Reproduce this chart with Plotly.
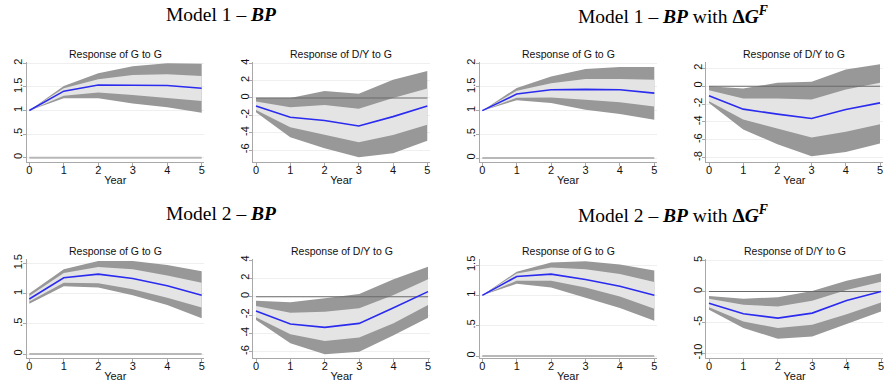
import plotly.graph_objects as go

W, H = 888, 387

years = [0, 1, 2, 3, 4, 5]
year_labels = ["0", "1", "2", "3", "4", "5"]

# ---- Panel data ----
# Model 1 - BP : Response of G to G
m1_g_irf = [1.0, 1.41, 1.54, 1.54, 1.53, 1.47]
m1_g_in_hi = [1.0, 1.47, 1.66, 1.75, 1.77, 1.73]
m1_g_in_lo = [1.0, 1.31, 1.38, 1.33, 1.27, 1.20]
m1_g_out_hi = [1.0, 1.52, 1.79, 1.94, 2.0, 1.99]
m1_g_out_lo = [1.0, 1.26, 1.26, 1.15, 1.07, 0.95]

# Model 1 - BP : Response of D/Y to G
m1_d_irf = [-0.92, -2.23, -2.6, -3.23, -2.15, -0.92]
m1_d_in_hi = [-0.42, -1.08, -0.8, -1.23, 0.0, 1.08]
m1_d_in_lo = [-1.38, -3.38, -4.27, -5.1, -4.27, -3.08]
m1_d_out_hi = [0.0, 0.0, 0.8, 0.5, 2.1, 3.1]
m1_d_out_lo = [-1.65, -4.54, -5.8, -6.85, -6.38, -4.92]

# Model 1 - BP with dG^F : Response of G to G
m1f_g_irf = [1.0, 1.35, 1.44, 1.45, 1.44, 1.37]
m1f_g_in_hi = [1.0, 1.42, 1.58, 1.67, 1.67, 1.65]
m1f_g_in_lo = [1.0, 1.27, 1.28, 1.23, 1.18, 1.09]
m1f_g_out_hi = [1.0, 1.48, 1.72, 1.88, 1.92, 1.92]
m1f_g_out_lo = [1.0, 1.22, 1.16, 1.02, 0.93, 0.81]

# Model 1 - BP with dG^F : Response of D/Y to G
m1f_d_irf = [-1.08, -2.57, -3.13, -3.62, -2.61, -1.87]
m1f_d_in_hi = [-0.45, -1.38, -1.38, -1.49, -0.37, 0.37]
m1f_d_in_lo = [-1.68, -3.73, -4.74, -5.75, -5.11, -4.25]
m1f_d_out_hi = [0.0, -0.26, 0.37, 0.49, 1.87, 2.46]
m1f_d_out_lo = [-1.87, -4.85, -6.49, -7.84, -7.35, -6.42]

# Model 2 - BP : Response of G to G
m2_g_irf = [0.91, 1.26, 1.32, 1.25, 1.13, 0.97]
m2_g_in_hi = [0.96, 1.34, 1.44, 1.40, 1.30, 1.18]
m2_g_in_lo = [0.87, 1.18, 1.17, 1.07, 0.93, 0.77]
m2_g_out_hi = [1.0, 1.40, 1.54, 1.54, 1.47, 1.37]
m2_g_out_lo = [0.83, 1.12, 1.10, 0.97, 0.81, 0.59]

# Model 2 - BP : Response of D/Y to G
m2_d_irf = [-1.56, -2.98, -3.35, -2.91, -1.2, 0.55]
m2_d_in_hi = [-1.02, -1.75, -1.64, -1.27, 0.18, 1.89]
m2_d_in_lo = [-2.25, -4.11, -4.84, -4.44, -2.9, -0.9]
m2_d_out_hi = [-0.44, -0.62, -0.18, 0.29, 1.89, 3.27]
m2_d_out_lo = [-2.55, -5.09, -6.29, -6.0, -4.2, -2.29]

# Model 2 - BP with dG^F : Response of G to G
m2f_g_irf = [1.0, 1.31, 1.35, 1.26, 1.15, 1.0]
m2f_g_in_hi = [1.0, 1.36, 1.46, 1.43, 1.35, 1.22]
m2f_g_in_lo = [1.0, 1.24, 1.24, 1.13, 0.98, 0.78]
m2f_g_out_hi = [1.0, 1.39, 1.54, 1.56, 1.51, 1.41]
m2f_g_out_lo = [1.0, 1.19, 1.13, 0.96, 0.79, 0.58]

# Model 2 - BP with dG^F : Response of D/Y to G
m2f_d_irf = [-1.88, -3.6, -4.3, -3.49, -1.45, 0.0]
m2f_d_in_hi = [-1.18, -2.15, -2.42, -1.5, 0.27, 1.6]
m2f_d_in_lo = [-2.53, -4.84, -5.91, -5.38, -3.66, -1.77]
m2f_d_out_hi = [-0.7, -1.18, -0.91, 0.1, 1.77, 2.96]
m2f_d_out_lo = [-2.96, -5.91, -7.63, -7.26, -5.22, -3.23]

g_ticks_2 = [0, 0.5, 1, 1.5, 2]
g_ticks_15 = [0, 0.5, 1, 1.5]
g_tick_text_2 = ["0", ".5", "1", "1.5", "2"]
g_tick_text_15 = ["0", ".5", "1", "1.5"]
d_ticks_a = [-6, -4, -2, 0, 2, 4]
d_ticks_b = [-8, -6, -4, -2, 0, 2]
d_ticks_c = [-10, -5, 0, 5]

title_g = "Response of G to G"
title_d = "Response of D/Y to G"
headers = [
    "Model 1 – <b><i>BP</i></b>",
    "Model 1 – <b><i>BP</i></b> with <b>Δ<i>G</i><sup><i>F</i></sup></b>",
    "Model 2 – <b><i>BP</i></b>",
    "Model 2 – <b><i>BP</i></b> with <b>Δ<i>G</i><sup><i>F</i></sup></b>",
]

# ---- layout geometry (pixels) ----
TOP_ROW = (61.7, 161.7)
BOT_ROW = (259.3, 357.5)

panels = [
    dict(d=(m1_g_irf, m1_g_in_hi, m1_g_in_lo, m1_g_out_hi, m1_g_out_lo), kind="g",
         ticks=g_ticks_2, text=g_tick_text_2, title=title_g, row=TOP_ROW,
         LR=(26.5, 204), xp=(29.3, 201.7), yp=((2, 63.3), (0, 157.7))),
    dict(d=(m1_d_irf, m1_d_in_hi, m1_d_in_lo, m1_d_out_hi, m1_d_out_lo), kind="d",
         ticks=d_ticks_a, text=[str(t) for t in d_ticks_a], title=title_d, row=TOP_ROW,
         LR=(253.3, 429.5), xp=(256.0, 427.3), yp=((4, 63.3), (-6, 150.0))),
    dict(d=(m1f_g_irf, m1f_g_in_hi, m1f_g_in_lo, m1f_g_out_hi, m1f_g_out_lo), kind="g",
         ticks=g_ticks_2, text=g_tick_text_2, title=title_g, row=TOP_ROW,
         LR=(479.5, 656.5), xp=(482.3, 654.3), yp=((2, 63.3), (0, 158.0))),
    dict(d=(m1f_d_irf, m1f_d_in_hi, m1f_d_in_lo, m1f_d_out_hi, m1f_d_out_lo), kind="d",
         ticks=d_ticks_b, text=[str(t) for t in d_ticks_b], title=title_d, row=TOP_ROW,
         LR=(706.3, 882.5), xp=(709.0, 880.0), yp=((2, 68.3), (-8, 157.7))),
    dict(d=(m2_g_irf, m2_g_in_hi, m2_g_in_lo, m2_g_out_hi, m2_g_out_lo), kind="g",
         ticks=g_ticks_15, text=g_tick_text_15, title=title_g, row=BOT_ROW,
         LR=(26.5, 204), xp=(29.3, 201.7), yp=((1.5, 263.3), (0, 354.0))),
    dict(d=(m2_d_irf, m2_d_in_hi, m2_d_in_lo, m2_d_out_hi, m2_d_out_lo), kind="d",
         ticks=d_ticks_a, text=[str(t) for t in d_ticks_a], title=title_d, row=BOT_ROW,
         LR=(253.3, 430), xp=(256.0, 428.0), yp=((4, 260.0), (-6, 351.7))),
    dict(d=(m2f_g_irf, m2f_g_in_hi, m2f_g_in_lo, m2f_g_out_hi, m2f_g_out_lo), kind="g",
         ticks=g_ticks_15, text=g_tick_text_15, title=title_g, row=BOT_ROW,
         LR=(479.5, 656.5), xp=(482.3, 654.3), yp=((1.5, 265.0), (0, 356.0))),
    dict(d=(m2f_d_irf, m2f_d_in_hi, m2f_d_in_lo, m2f_d_out_hi, m2f_d_out_lo), kind="d",
         ticks=d_ticks_c, text=[str(t) for t in d_ticks_c], title=title_d, row=BOT_ROW,
         LR=(706.3, 883), xp=(709.0, 881.0), yp=((5, 260.7), (-10, 353.3))),
]

OUTER = "#989898"
INNER = "#e4e4e4"
BLUE = "#2b2bef"
AXIS = "#a8a8a8"
FONT = "Liberation Sans, Arial, sans-serif"

fig = go.Figure()
annotations = []
layout_axes = {}

for i, p in enumerate(panels):
    n = i + 1
    xa = "x" if n == 1 else f"x{n}"
    ya = "y" if n == 1 else f"y{n}"
    irf, in_hi, in_lo, out_hi, out_lo = p["d"]
    T, B = p["row"]
    L, R = p["LR"]
    x0p, x5p = p["xp"]
    xs = (x5p - x0p) / (years[-1] - years[0])
    xr = [years[0] + (L - x0p) / xs, years[0] + (R - x0p) / xs]
    (v1, p1), (v2, p2) = p["yp"]
    ys = (p2 - p1) / (v1 - v2)
    yr = [v1 + (p1 - B) / ys, v1 + (p1 - T) / ys]

    fig.add_trace(go.Scatter(x=years + years[::-1], y=out_hi + out_lo[::-1],
                             fill="toself", fillcolor=OUTER, mode="lines",
                             line=dict(width=0, color=OUTER), hoverinfo="skip",
                             showlegend=False, xaxis=xa, yaxis=ya))
    fig.add_trace(go.Scatter(x=years + years[::-1], y=in_hi + in_lo[::-1],
                             fill="toself", fillcolor=INNER, mode="lines",
                             line=dict(width=0, color=INNER), hoverinfo="skip",
                             showlegend=False, xaxis=xa, yaxis=ya))
    zero = [0 for _ in years]
    if p["kind"] == "g":
        fig.add_trace(go.Scatter(x=years, y=zero, mode="lines",
                                 line=dict(width=2, color="#b8b8b8"),
                                 showlegend=False, xaxis=xa, yaxis=ya))
    else:
        fig.add_trace(go.Scatter(x=years, y=zero, mode="lines",
                                 line=dict(width=1.1, color="#6a6a6a"),
                                 showlegend=False, xaxis=xa, yaxis=ya))
    fig.add_trace(go.Scatter(x=years, y=irf, mode="lines",
                             line=dict(width=1.6, color=BLUE),
                             showlegend=False, xaxis=xa, yaxis=ya))

    layout_axes["xaxis" if n == 1 else f"xaxis{n}"] = dict(
        domain=[L / W, R / W], range=xr, anchor=ya, automargin=False,
        tickmode="array", tickvals=years, ticktext=year_labels,
        ticks="outside", ticklen=3, tickcolor=AXIS, tickwidth=1,
        ticklabelstandoff=-5,
        showline=True, linecolor=AXIS, linewidth=1, showgrid=False, zeroline=False,
        tickfont=dict(family=FONT, size=11, color="#111"),
        title=dict(text="Year", font=dict(family=FONT, size=11, color="#111"), standoff=1),
        fixedrange=True,
    )
    layout_axes["yaxis" if n == 1 else f"yaxis{n}"] = dict(
        domain=[(H - B) / H, (H - T) / H], range=yr, anchor=xa, automargin=False,
        tickmode="array", tickvals=p["ticks"], ticktext=p["text"],
        ticks="outside", ticklen=3, tickcolor=AXIS, tickwidth=1, tickangle=-90,
        ticklabelstandoff=-4,
        showline=True, linecolor=AXIS, linewidth=1,
        showgrid=True, gridcolor="#efefef", gridwidth=1, zeroline=False,
        tickfont=dict(family=FONT, size=11, color="#111"),
        fixedrange=True,
    )
    annotations.append(dict(text=p["title"], x=(L + R) / 2 / W, y=(H - (T - 8)) / H,
                            xref="paper", yref="paper", showarrow=False,
                            xanchor="center", yanchor="middle",
                            font=dict(family=FONT, size=10.5, color="#111")))

header_pos = [(221, 15), (673, 15), (221, 214), (673, 214)]
for txt, (hx, hy) in zip(headers, header_pos):
    annotations.append(dict(text=txt, x=hx / W, y=(H - hy) / H, xref="paper", yref="paper",
                            showarrow=False, xanchor="center", yanchor="middle",
                            font=dict(family="Liberation Serif, Times New Roman, serif",
                                      size=19.5, color="#000")))

fig.update_layout(width=W, height=H, margin=dict(l=0, r=0, t=0, b=0, autoexpand=False),
                  paper_bgcolor="white", plot_bgcolor="white",
                  annotations=annotations, **layout_axes)

fig.write_html("out.html", config={"displayModeBar": False},
               post_script="document.body.style.margin='0';document.body.style.padding='0';document.body.style.overflow='hidden';")
